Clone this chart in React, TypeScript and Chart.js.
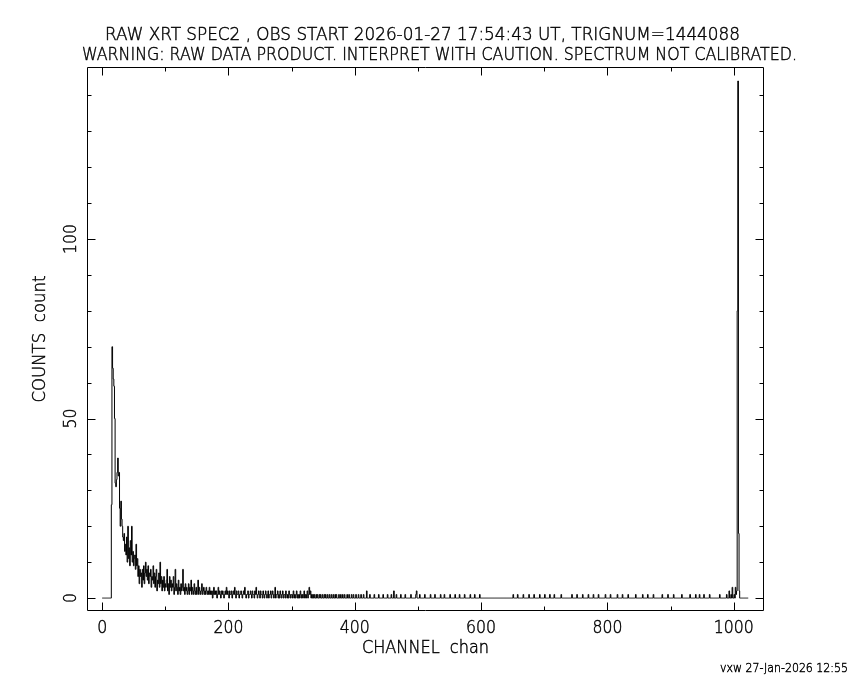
import { useEffect, useRef } from "react";
import { Chart, registerables } from "chart.js";

Chart.register(...registerables);

const TITLE_1 = "RAW XRT SPEC2 , OBS START 2026-01-27 17:54:43 UT, TRIGNUM=1444088";
const TITLE_2 = "WARNING: RAW DATA PRODUCT. INTERPRET WITH CAUTION. SPECTRUM NOT CALIBRATED.";
const X_LABEL = "CHANNEL  chan";
const Y_LABEL = "COUNTS  count";
const FOOTER = "vxw 27-Jan-2026 12:55";

const N_CHANNELS = 1024;

// counts for channels 0..419
const HEAD_COUNTS = [
  0, 0, 0, 0, 0, 0, 0, 0, 0, 0,
  0, 0, 0, 0, 0, 26, 70, 64, 61, 59,
  50, 32, 31, 33, 35, 39, 34, 35, 25, 20,
  27, 22, 20, 17, 16, 18, 13, 15, 12, 17,
  10, 20, 11, 14, 9, 16, 12, 20, 10, 13,
  9, 11, 12, 8, 15, 9, 11, 6, 9, 4,
  8, 6, 7, 3, 8, 5, 9, 4, 7, 10,
  6, 8, 5, 9, 4, 7, 6, 8, 3, 6,
  5, 9, 4, 7, 3, 6, 8, 2, 5, 4,
  7, 3, 10, 4, 6, 2, 5, 3, 6, 2,
  4, 3, 5, 8, 2, 4, 1, 6, 3, 5,
  2, 4, 3, 6, 1, 3, 8, 2, 4, 3,
  1, 5, 2, 3, 1, 4, 2, 3, 8, 2,
  3, 1, 4, 2, 3, 1, 2, 4, 1, 3,
  2, 5, 1, 3, 2, 1, 4, 2, 1, 3,
  1, 2, 5, 1, 3, 2, 1, 2, 4, 1,
  2, 3, 1, 2, 1, 3, 2, 1, 2, 1,
  3, 1, 2, 1, 2, 0, 1, 3, 1, 2,
  1, 2, 0, 1, 3, 1, 2, 1, 0, 2,
  1, 2, 1, 0, 1, 2, 1, 3, 1, 2,
  1, 0, 2, 1, 1, 2, 0, 1, 2, 1,
  3, 1, 0, 2, 1, 1, 2, 0, 1, 1,
  2, 1, 0, 1, 2, 1, 3, 1, 0, 1,
  1, 2, 0, 1, 1, 2, 1, 0, 2, 1,
  1, 0, 2, 1, 3, 1, 0, 1, 2, 1,
  0, 2, 1, 1, 0, 2, 1, 0, 1, 2,
  1, 0, 1, 2, 0, 1, 1, 2, 0, 1,
  2, 1, 0, 1, 3, 0, 1, 1, 2, 0,
  1, 0, 2, 1, 0, 1, 2, 0, 1, 1,
  0, 2, 1, 0, 1, 0, 2, 1, 0, 1,
  1, 0, 1, 2, 0, 1, 0, 1, 2, 0,
  1, 0, 1, 0, 2, 1, 0, 1, 0, 1,
  2, 0, 1, 0, 1, 2, 0, 1, 3, 1,
  2, 0, 1, 0, 1, 0, 1, 0, 0, 1,
  0, 1, 0, 0, 1, 0, 1, 0, 0, 1,
  0, 0, 1, 0, 1, 0, 0, 1, 0, 0,
  1, 0, 0, 1, 0, 0, 1, 0, 0, 1,
  0, 1, 0, 0, 0, 1, 0, 0, 1, 0,
  0, 1, 0, 0, 1, 0, 0, 0, 1, 0,
  0, 1, 0, 0, 0, 1, 0, 0, 1, 0,
  0, 0, 1, 0, 0, 0, 1, 0, 0, 0,
  1, 0, 0, 0, 1, 0, 0, 0, 0, 2,
];

// sparse counts in the flat tail (channels 420..1002)
const TAIL_CHANNELS = [
  424, 431, 438, 445, 452, 458, 462, 466, 473, 480, 489, 497, 498, 503, 511, 520,
  527, 536, 542, 551, 559, 566, 574, 583, 590, 598, 651, 658, 667, 676, 684, 693,
  701, 709, 716, 727, 744, 752, 761, 770, 778, 786, 797, 805, 816, 824, 833, 845,
  856, 864, 873, 887, 896, 905, 918, 931, 940, 946, 953, 962, 978, 989, 993, 996,
  998, 1001,
];
const TAIL_COUNTS = [
  1, 1, 1, 1, 1, 1, 2, 1, 1, 1, 1, 1, 2, 1, 1, 1,
  1, 1, 1, 1, 1, 1, 1, 1, 1, 1, 1, 1, 1, 1, 1, 1,
  1, 1, 1, 1, 1, 1, 1, 1, 1, 1, 1, 1, 1, 1, 1, 1,
  1, 1, 1, 1, 1, 1, 1, 1, 1, 1, 1, 1, 1, 1, 2, 1,
  3, 1,
];

// the spike near the top of the channel range
const SPIKE_CHANNELS = [1003, 1004, 1005, 1006, 1007, 1008, 1009];
const SPIKE_COUNTS = [3, 1, 2, 80, 144, 18, 2];

const X_MIN = -24;
const X_MAX = 1048;
const Y_MIN = -3.6;
const Y_MAX = 147.9;

const X_MAJOR_TICKS = [0, 200, 400, 600, 800, 1000];
const X_MINOR_TICKS = [100, 300, 500, 700, 900];
const Y_MAJOR_TICKS = [0, 50, 100];
const Y_MINOR_TICKS = [10, 20, 30, 40, 60, 70, 80, 90, 110, 120, 130, 140];

const FONT_FAMILY = '"DejaVu Sans", "Liberation Sans", sans-serif';
const FONT_WEIGHT = "200";
const CAP_RATIO = 0.729;

function buildCounts(): number[] {
  const counts = new Array(N_CHANNELS).fill(0);
  HEAD_COUNTS.forEach((v, i) => (counts[i] = v));
  TAIL_CHANNELS.forEach((c, i) => (counts[c] = TAIL_COUNTS[i]));
  SPIKE_CHANNELS.forEach((c, i) => (counts[c] = SPIKE_COUNTS[i]));
  return counts;
}

function setFont(ctx: CanvasRenderingContext2D, capH: number) {
  ctx.font = `${FONT_WEIGHT} ${capH / CAP_RATIO}px ${FONT_FAMILY}`;
}

function drawText(
  ctx: CanvasRenderingContext2D,
  text: string,
  x: number,
  y: number,
  capH: number,
  opts: { width?: number; sx?: number; align?: CanvasTextAlign; rot?: number }
) {
  setFont(ctx, capH);
  const w = ctx.measureText(text).width;
  const sx = opts.sx ?? (opts.width ? opts.width / w : 1);
  ctx.save();
  ctx.translate(x, y);
  ctx.rotate(opts.rot ?? 0);
  ctx.scale(sx, 1);
  ctx.textAlign = opts.align ?? "center";
  ctx.textBaseline = "alphabetic";
  ctx.fillStyle = "#000";
  ctx.strokeStyle = "#000";
  ctx.lineWidth = 0.45;
  ctx.fillText(text, 0, 0);
  ctx.strokeText(text, 0, 0);
  ctx.restore();
}

const framePlugin = {
  id: "pgframe",
  afterDraw(chart: any) {
    const ctx: CanvasRenderingContext2D = chart.ctx;
    const { left, right, top, bottom } = chart.chartArea;
    const xs = chart.scales.x;
    const ys = chart.scales.y;
    ctx.save();
    ctx.strokeStyle = "#000";
    ctx.lineWidth = 1;
    const L = Math.round(left) + 0.5;
    const R = Math.round(right) - 0.5;
    const T = Math.round(top) + 0.5;
    const B = Math.round(bottom) - 0.5;
    ctx.beginPath();
    ctx.rect(L, T, R - L, B - T);
    ctx.stroke();

    const majorLen = 8;
    const minorLen = 4;
    ctx.beginPath();
    const xTick = (v: number, len: number) => {
      const px = Math.round(xs.getPixelForValue(v)) + 0.5;
      ctx.moveTo(px, B);
      ctx.lineTo(px, B - len);
      ctx.moveTo(px, T);
      ctx.lineTo(px, T + len);
    };
    const yTick = (v: number, len: number) => {
      const py = Math.round(ys.getPixelForValue(v)) + 0.5;
      ctx.moveTo(L, py);
      ctx.lineTo(L + len, py);
      ctx.moveTo(R, py);
      ctx.lineTo(R - len, py);
    };
    X_MAJOR_TICKS.forEach((v) => xTick(v, majorLen));
    X_MINOR_TICKS.forEach((v) => xTick(v, minorLen));
    Y_MAJOR_TICKS.forEach((v) => yTick(v, majorLen));
    Y_MINOR_TICKS.forEach((v) => yTick(v, minorLen));
    ctx.stroke();

    // tick label scale: "200" is 30px wide in the reference
    setFont(ctx, 13);
    const tickSx = 30 / ctx.measureText("200").width;
    X_MAJOR_TICKS.forEach((v) => {
      drawText(ctx, String(v), xs.getPixelForValue(v), 633, 13, { sx: tickSx });
    });
    Y_MAJOR_TICKS.forEach((v) => {
      drawText(ctx, String(v), 76, ys.getPixelForValue(v), 13, { sx: tickSx, rot: -Math.PI / 2 });
    });

    drawText(ctx, TITLE_1, 422.5, 40, 13, { width: 635 });
    drawText(ctx, TITLE_2, 439.5, 60, 13, { width: 715 });
    drawText(ctx, X_LABEL, (left + right) / 2, 653, 13, { width: 127 });
    drawText(ctx, Y_LABEL, 45, (top + bottom) / 2, 13, { width: 127, rot: -Math.PI / 2 });
    drawText(ctx, FOOTER, 848, 672, 9, { width: 128, align: "right" });
    ctx.restore();
  },
};

export default function App() {
  const canvasRef = useRef<HTMLCanvasElement | null>(null);

  useEffect(() => {
    document.body.style.margin = "0";
    document.body.style.background = "#fff";
    const canvas = canvasRef.current;
    if (!canvas) return;
    const counts = buildCounts();
    const points = counts.map((c, i) => ({ x: i, y: c }));
    const chart = new Chart(canvas, {
      type: "line",
      data: {
        datasets: [
          {
            data: points,
            stepped: "middle",
            borderColor: "#000",
            borderWidth: 1,
            pointRadius: 0,
            fill: false,
          },
        ],
      },
      options: {
        animation: false,
        responsive: false,
        devicePixelRatio: 1,
        events: [],
        layout: { padding: { left: 87, top: 67, right: 86, bottom: 69 } },
        plugins: { legend: { display: false }, tooltip: { enabled: false } },
        scales: {
          x: { type: "linear", min: X_MIN, max: X_MAX, display: false },
          y: { type: "linear", min: Y_MIN, max: Y_MAX, display: false },
        },
      },
      plugins: [framePlugin],
    } as any);
    return () => chart.destroy();
  }, []);

  return (
    <div style={{ width: 850, height: 680, background: "#fff" }}>
      <canvas ref={canvasRef} width={850} height={680} style={{ display: "block" }} />
    </div>
  );
}
